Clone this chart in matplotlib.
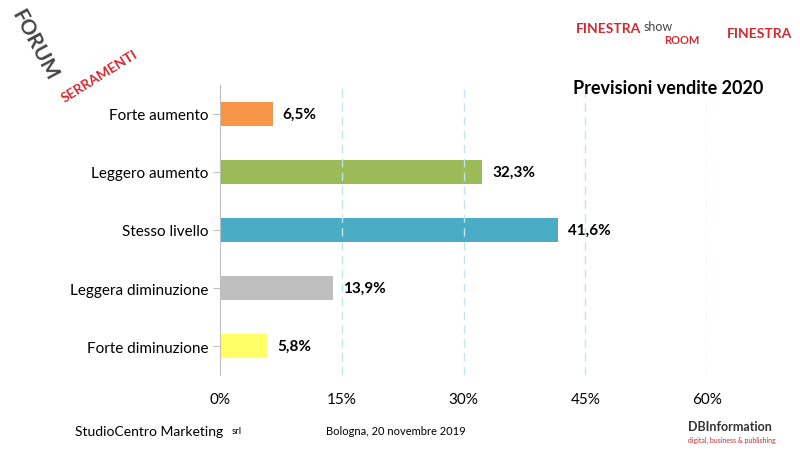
import matplotlib
matplotlib.use("Agg")
import matplotlib.pyplot as plt

categories = ["Forte aumento", "Leggero aumento", "Stesso livello",
              "Leggera diminuzione", "Forte diminuzione"]
values = [6.5, 32.3, 41.6, 13.9, 5.8]
colors = ["#F79646", "#9BBB59", "#4BACC6", "#BFBFBF", "#FFFF66"]
ticks = [0, 15, 30, 45, 60]

plt.rcParams["font.family"] = "Lato"

fig = plt.figure(figsize=(8, 4.52), dpi=100)
ax = fig.add_axes([0.275, 0.168, 0.609, 0.642])

ypos = list(range(len(categories)))[::-1]
ax.barh(ypos, values, height=0.42, color=colors)
for y, v in zip(ypos, values):
    ax.text(v + 1.2, y, f"{v:.1f}%".replace(".", ","), va="center",
            ha="left", fontsize=11, fontweight="bold")

ax.set_xlim(0, 60)
ax.set_ylim(-0.5, 4.5)
ax.set_xticks(ticks)
ax.set_xticklabels([f"{t}%" for t in ticks], fontsize=11)
ax.set_yticks(ypos)
ax.set_yticklabels(categories, fontsize=11)
ax.tick_params(axis="x", length=0, pad=12)
ax.tick_params(axis="y", length=5, color="#BFBFBF")
for t in ticks[1:]:
    ax.axvline(t, color="#BDE7EF", ls=(0, (6, 4)), lw=1)
for s in ["top", "right", "bottom"]:
    ax.spines[s].set_visible(False)
ax.spines["left"].set_color("#BFBFBF")

fig.text(0.835, 0.805, "Previsioni vendite 2020", ha="center", va="center",
         fontsize=13, fontweight="bold")

# header logos (approximated as text)
fig.text(0.01, 0.985, "FORUM", rotation=-62, color="#444444", fontsize=15,
         fontweight="bold", ha="left", va="top")
fig.text(0.125, 0.83, "SERRAMENTI", rotation=32, color="#D7282F", fontsize=10,
         fontweight="bold", ha="center", va="center")
fig.text(0.72, 0.935, "FINESTRA", color="#D7282F", fontsize=10, fontweight="bold",
         ha="left", va="center")
fig.text(0.805, 0.94, "show", color="#444444", fontsize=9, ha="left", va="center")
fig.text(0.83, 0.91, "ROOM", color="#D7282F", fontsize=8, fontweight="bold",
         ha="left", va="center")
fig.text(0.908, 0.925, "FINESTRA", color="#D7282F", fontsize=10, fontweight="bold",
         ha="left", va="center")

# footer
fig.text(0.094, 0.045, "StudioCentro Marketing", fontsize=10, ha="left", va="center")
fig.text(0.29, 0.045, "srl", fontsize=7, ha="left", va="center")
fig.text(0.495, 0.045, "Bologna, 20 novembre 2019", fontsize=8, ha="center",
         va="center")
fig.text(0.86, 0.055, "DBInformation", fontsize=9, fontweight="bold",
         color="#333333", ha="left", va="center")
fig.text(0.86, 0.025, "digital, business & publishing", fontsize=5,
         color="#D7282F", ha="left", va="center")

fig.savefig("out.png", dpi=100)
